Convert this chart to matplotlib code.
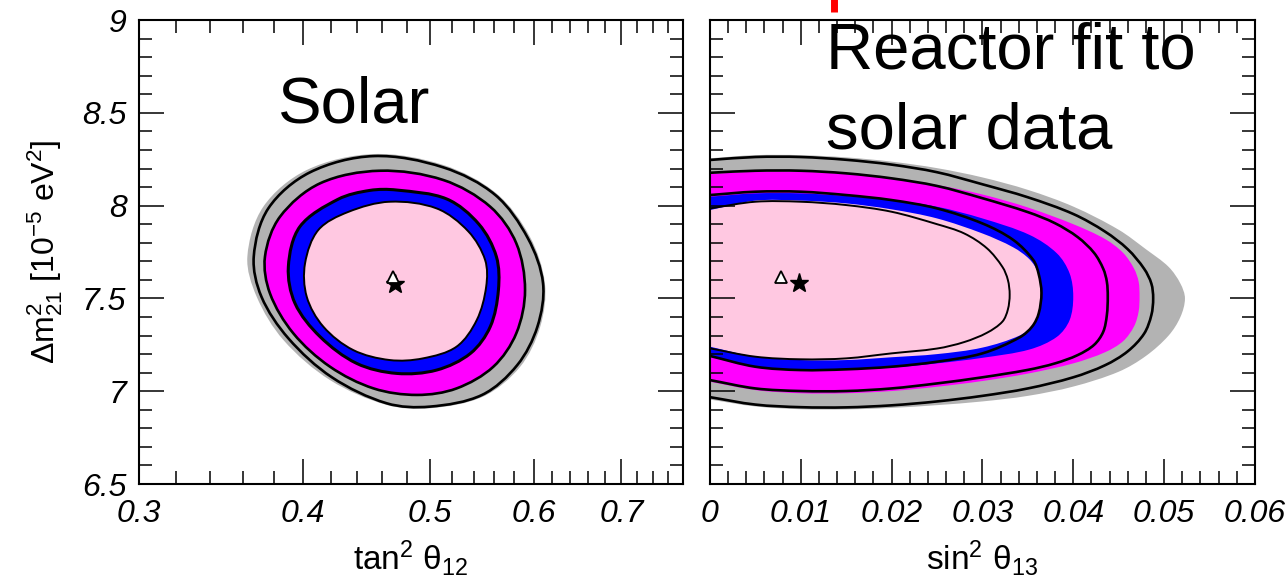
import numpy as np
import matplotlib
matplotlib.use('Agg')
import matplotlib.pyplot as plt
from matplotlib.path import Path
from matplotlib.patches import PathPatch
from matplotlib.ticker import FixedLocator, NullFormatter

plt.rcParams['font.family'] = ['Liberation Sans', 'DejaVu Sans']
plt.rcParams['mathtext.fontset'] = 'custom'
plt.rcParams['mathtext.rm'] = 'Liberation Sans'
plt.rcParams['mathtext.it'] = 'Liberation Sans:italic'
plt.rcParams['mathtext.bf'] = 'Liberation Sans:bold'

########## contour data (x, dm2) ##########
# left panel: tan^2 theta12 vs dm2_21 (closed contours)
left_gray = [(0.453, 8.278), (0.512, 8.219), (0.562, 8.066), (0.596, 7.833),
             (0.612, 7.581), (0.607, 7.348), (0.586, 7.132), (0.549, 6.971),
             (0.500, 6.908), (0.4635, 6.926), (0.4196, 7.060), (0.3866, 7.276),
             (0.3689, 7.509), (0.3629, 7.725), (0.3732, 7.994), (0.4028, 8.192)]
left_line1 = [(0.453, 8.267), (0.512, 8.206), (0.561, 8.057), (0.594, 7.824),
              (0.610, 7.581), (0.604, 7.348), (0.583, 7.141), (0.548, 6.980),
              (0.500, 6.917), (0.4635, 6.935), (0.421, 7.075), (0.390, 7.285),
              (0.372, 7.509), (0.367, 7.725), (0.3765, 7.985), (0.405, 8.179)]
left_line2 = [(0.458, 8.188), (0.512, 8.138), (0.556, 7.994), (0.582, 7.797),
              (0.591, 7.545), (0.582, 7.312), (0.559, 7.132), (0.524, 7.015),
              (0.489, 6.980), (0.453, 7.015), (0.4196, 7.132), (0.3934, 7.312),
              (0.3776, 7.527), (0.3743, 7.725), (0.3843, 7.940), (0.4123, 8.120)]
left_line3 = [(0.4717, 8.084), (0.515, 8.036), (0.545, 7.900), (0.562, 7.725),
              (0.564, 7.545), (0.556, 7.348), (0.537, 7.204), (0.506, 7.114),
              (0.4717, 7.096), (0.4397, 7.150), (0.4123, 7.294), (0.3946, 7.473),
              (0.390, 7.671), (0.398, 7.887), (0.4255, 8.034), (0.450, 8.082)]
left_line4 = [(0.466, 8.021), (0.506, 7.985), (0.535, 7.861), (0.551, 7.707),
              (0.552, 7.563), (0.543, 7.384), (0.524, 7.240), (0.494, 7.177),
              (0.466, 7.168), (0.437, 7.222), (0.4147, 7.348), (0.4028, 7.509),
              (0.4016, 7.689), (0.4111, 7.869), (0.4332, 7.966)]
left_tri = (0.469, 7.617)
left_star = (0.4704, 7.578)

# right panel: sin^2 theta13 vs dm2_21 (open at sin^2 = 0)
right_gray = [(0, 8.255), (0.005, 8.272), (0.01, 8.272), (0.015, 8.260), (0.02, 8.237),
              (0.025, 8.202), (0.03, 8.152), (0.035, 8.085), (0.04, 7.995),
              (0.045, 7.870), (0.048, 7.765), (0.0505, 7.67), (0.0518, 7.58),
              (0.0523, 7.50), (0.0518, 7.40), (0.0505, 7.30), (0.048, 7.19),
              (0.045, 7.105), (0.04, 7.025), (0.035, 6.975), (0.03, 6.945),
              (0.025, 6.925), (0.02, 6.910), (0.015, 6.902), (0.01, 6.903),
              (0.005, 6.918), (0, 6.955)]
right_line1 = [(0, 8.246), (0.005, 8.262), (0.01, 8.262), (0.015, 8.247), (0.02, 8.221),
               (0.025, 8.18), (0.03, 8.115), (0.035, 8.045), (0.04, 7.955),
               (0.0435, 7.86), (0.046, 7.765), (0.0478, 7.66), (0.0486, 7.58),
               (0.0488, 7.50), (0.0486, 7.41), (0.0478, 7.31), (0.046, 7.215),
               (0.0435, 7.14), (0.04, 7.075), (0.035, 7.015), (0.03, 6.975),
               (0.025, 6.945), (0.02, 6.924), (0.015, 6.913), (0.01, 6.914),
               (0.005, 6.928), (0, 6.968)]
right_magenta = [(0, 8.170), (0.005, 8.183), (0.01, 8.183), (0.015, 8.170), (0.02, 8.147),
                 (0.025, 8.111), (0.03, 8.06), (0.035, 7.99), (0.04, 7.90),
                 (0.0435, 7.82), (0.0455, 7.745), (0.0467, 7.66), (0.0472, 7.59),
                 (0.0473, 7.51), (0.0472, 7.43), (0.0467, 7.35), (0.0455, 7.27),
                 (0.0435, 7.21), (0.04, 7.15), (0.035, 7.095), (0.03, 7.055),
                 (0.025, 7.024), (0.02, 7.001), (0.015, 6.989), (0.01, 6.989),
                 (0.005, 7.006), (0, 7.051)]
right_line2 = [(0, 8.177), (0.005, 8.188), (0.01, 8.188), (0.015, 8.174), (0.02, 8.147),
               (0.025, 8.106), (0.03, 8.04), (0.035, 7.965), (0.038, 7.905),
               (0.0405, 7.83), (0.0423, 7.745), (0.0433, 7.66), (0.0437, 7.59),
               (0.0438, 7.51), (0.0437, 7.41), (0.0433, 7.32), (0.0423, 7.25),
               (0.0405, 7.195), (0.038, 7.15), (0.035, 7.115), (0.03, 7.075),
               (0.025, 7.042), (0.02, 7.015), (0.015, 7.001), (0.01, 7.001),
               (0.005, 7.015), (0, 7.060)]
right_blue = [(0, 8.048), (0.005, 8.066), (0.01, 8.066), (0.015, 8.052), (0.02, 8.030),
              (0.025, 7.994), (0.03, 7.931), (0.0352, 7.842), (0.0382, 7.743),
              (0.0396, 7.635), (0.0400, 7.51), (0.0396, 7.383), (0.0382, 7.293),
              (0.0352, 7.225), (0.03, 7.18), (0.025, 7.150), (0.02, 7.127),
              (0.015, 7.118), (0.01, 7.111), (0.005, 7.129), (0, 7.186)]
right_line3 = [(0, 8.057), (0.005, 8.075), (0.01, 8.075), (0.015, 8.057), (0.02, 8.030),
               (0.025, 7.985), (0.03, 7.904), (0.0334, 7.815), (0.0356, 7.707),
               (0.0362, 7.63), (0.0365, 7.53), (0.0362, 7.42), (0.0355, 7.35),
               (0.0341, 7.29), (0.03, 7.204), (0.025, 7.159), (0.02, 7.132),
               (0.015, 7.118), (0.01, 7.114), (0.005, 7.132), (0, 7.190)]
right_pink = [(0, 7.976), (0.005, 8.027), (0.01, 8.027), (0.015, 8.012), (0.02, 7.980),
              (0.025, 7.931), (0.03, 7.85), (0.0334, 7.775), (0.0352, 7.71),
              (0.0361, 7.64), (0.0365, 7.53), (0.0362, 7.425), (0.0355, 7.355),
              (0.0341, 7.30), (0.03, 7.235), (0.025, 7.200), (0.02, 7.183),
              (0.015, 7.168), (0.01, 7.168), (0.005, 7.186), (0, 7.240)]
right_line4 = [(0, 7.985), (0.005, 8.021), (0.01, 8.021), (0.015, 8.003), (0.02, 7.967),
               (0.025, 7.90), (0.028, 7.85), (0.0305, 7.77), (0.0322, 7.67),
               (0.0328, 7.60), (0.0330, 7.52), (0.0328, 7.44), (0.0322, 7.375),
               (0.0305, 7.315), (0.028, 7.265), (0.025, 7.23), (0.02, 7.204),
               (0.015, 7.177), (0.01, 7.172), (0.005, 7.186), (0, 7.231)]
right_tri = (0.0078, 7.613)
right_star = (0.0098, 7.581)

# ticks
left_xticks = [0.3, 0.4, 0.5, 0.6, 0.7]
left_xminor = [0.32, 0.34, 0.36, 0.38, 0.42, 0.44, 0.46, 0.48, 0.52, 0.54, 0.56, 0.58,
               0.62, 0.64, 0.66, 0.68, 0.72, 0.74, 0.76]
right_xticks = [0, 0.01, 0.02, 0.03, 0.04, 0.05, 0.06]
right_xlabels = ['0', '0.01', '0.02', '0.03', '0.04', '0.05', '0.06']
yticks = [6.5, 7, 7.5, 8, 8.5, 9]
ylabels = ['6.5', '7', '7.5', '8', '8.5', '9']

GRAY = '#b3b3b3'
MAGENTA = '#ff00ff'
BLUE = '#0000ff'
PINK = '#ffc8e1'

# rough pixel size of one unit on each axis, only used to space the spline knots
LEFT_SCALE = np.array([569.0, 186.0])    # per ln(x), per dm2 unit
RIGHT_SCALE = np.array([9083.0, 186.0])


def smooth_path(pts, closed, logx, scale):
    # chord-length Catmull-Rom through the read points, as cubic Bezier pieces
    p = np.asarray(pts, float).copy()
    if logx:
        p[:, 0] = np.log(p[:, 0])
    q = p * scale
    n = len(q)
    if closed:
        Q = q[np.arange(-1, n + 2) % n]
    else:
        Q = np.vstack([2 * q[0] - q[1], q, 2 * q[-1] - q[-2]])
    d = np.maximum(np.linalg.norm(np.diff(Q, axis=0), axis=1), 1e-9)
    verts = [Q[1]]
    codes = [Path.MOVETO]
    for i in range(1, len(Q) - 2):
        m0 = (Q[i + 1] - Q[i - 1]) / (d[i - 1] + d[i])
        m1 = (Q[i + 2] - Q[i]) / (d[i] + d[i + 1])
        h = d[i]
        verts += [Q[i] + m0 * h / 3.0, Q[i + 1] - m1 * h / 3.0, Q[i + 1]]
        codes += [Path.CURVE4] * 3
    verts = np.array(verts) / scale
    if logx:
        verts[:, 0] = np.exp(verts[:, 0])
    return Path(verts, codes)


def region(ax, pts, color, closed, logx, scale):
    ax.add_patch(PathPatch(smooth_path(pts, closed, logx, scale), facecolor=color,
                           edgecolor='none', zorder=1))


def contour(ax, pts, lw, closed, logx, scale):
    ax.add_patch(PathPatch(smooth_path(pts, closed, logx, scale), facecolor='none',
                           edgecolor='black', lw=lw, zorder=2))


def style(ax):
    ax.set_ylim(6.5, 9)
    ax.yaxis.set_major_locator(FixedLocator(yticks))
    ax.yaxis.set_minor_locator(FixedLocator(np.arange(6.6, 9.0, 0.1)))
    ax.tick_params(which='both', direction='in', top=True, right=True, width=1.1)
    ax.tick_params(which='major', length=18, labelsize=23)
    ax.tick_params(axis='x', which='major', pad=11)
    ax.tick_params(axis='y', which='major', pad=9)
    ax.tick_params(which='minor', length=9.5)
    for s in ax.spines.values():
        s.set_linewidth(1.5)


fig = plt.figure(figsize=(12.88, 5.84), dpi=100)
axL = fig.add_axes([0.1079, 0.1712, 0.4224, 0.7945])
axR = fig.add_axes([0.5512, 0.1712, 0.4231, 0.7945])

# left panel
axL.set_xscale('log')
axL.set_xlim(0.3, 0.78)
for pts, col in [(left_gray, GRAY), (left_line2, MAGENTA), (left_line3, BLUE), (left_line4, PINK)]:
    region(axL, pts, col, True, True, LEFT_SCALE)
for pts, lw in [(left_line1, 1.9), (left_line2, 1.9), (left_line3, 2.2), (left_line4, 1.4)]:
    contour(axL, pts, lw, True, True, LEFT_SCALE)
axL.plot(*left_star, marker='*', ms=14, color='black', zorder=3)
axL.plot(*left_tri, marker='^', ms=9, mfc='white', mec='black', mew=1.3, zorder=4)
style(axL)
axL.xaxis.set_major_locator(FixedLocator(left_xticks))
axL.xaxis.set_minor_locator(FixedLocator(left_xminor))
axL.xaxis.set_minor_formatter(NullFormatter())
axL.set_xticklabels([str(v) for v in left_xticks], fontstyle='italic')
axL.set_yticklabels(ylabels, fontstyle='italic')
axL.set_xlabel(r'$\mathrm{tan}^2\ \mathrm{θ}_{12}$', fontsize=24, labelpad=6)
axL.set_ylabel(r'$\Delta\mathrm{m}^2_{21}\ [10^{-5}\ \mathrm{eV}^2]$', fontsize=23, labelpad=12)
axL.text(0.383, 8.45, 'Solar', fontsize=47, ha='left', va='baseline')

# right panel
axR.set_xlim(0, 0.06)
for pts, col in [(right_gray, GRAY), (right_magenta, MAGENTA), (right_blue, BLUE), (right_pink, PINK)]:
    region(axR, pts, col, False, False, RIGHT_SCALE)
for pts, lw in [(right_line1, 1.9), (right_line2, 1.9), (right_line3, 1.9), (right_line4, 1.4)]:
    contour(axR, pts, lw, False, False, RIGHT_SCALE)
axR.plot(*right_star, marker='*', ms=14, color='black', zorder=3)
axR.plot(*right_tri, marker='^', ms=9, mfc='white', mec='black', mew=1.3, zorder=4)
style(axR)
axR.xaxis.set_major_locator(FixedLocator(right_xticks))
axR.xaxis.set_minor_locator(FixedLocator(np.arange(0.002, 0.06, 0.002)))
axR.set_xticklabels(right_xlabels, fontstyle='italic')
axR.set_yticklabels([])
axR.set_xlabel(r'$\mathrm{sin}^2\ \mathrm{θ}_{13}$', fontsize=24, labelpad=6)
axR.text(0.0128, 8.741, 'Reactor fit to', fontsize=47, ha='left', va='baseline', zorder=5)
axR.text(0.0128, 8.310, 'solar data', fontsize=47, ha='left', va='baseline', zorder=5)
# red pointer stub at the top edge
axR.plot([0.0137, 0.0137], [9.045, 9.12], color='red', lw=5, clip_on=False, solid_capstyle='butt')

fig.savefig('out.png', dpi=100)
